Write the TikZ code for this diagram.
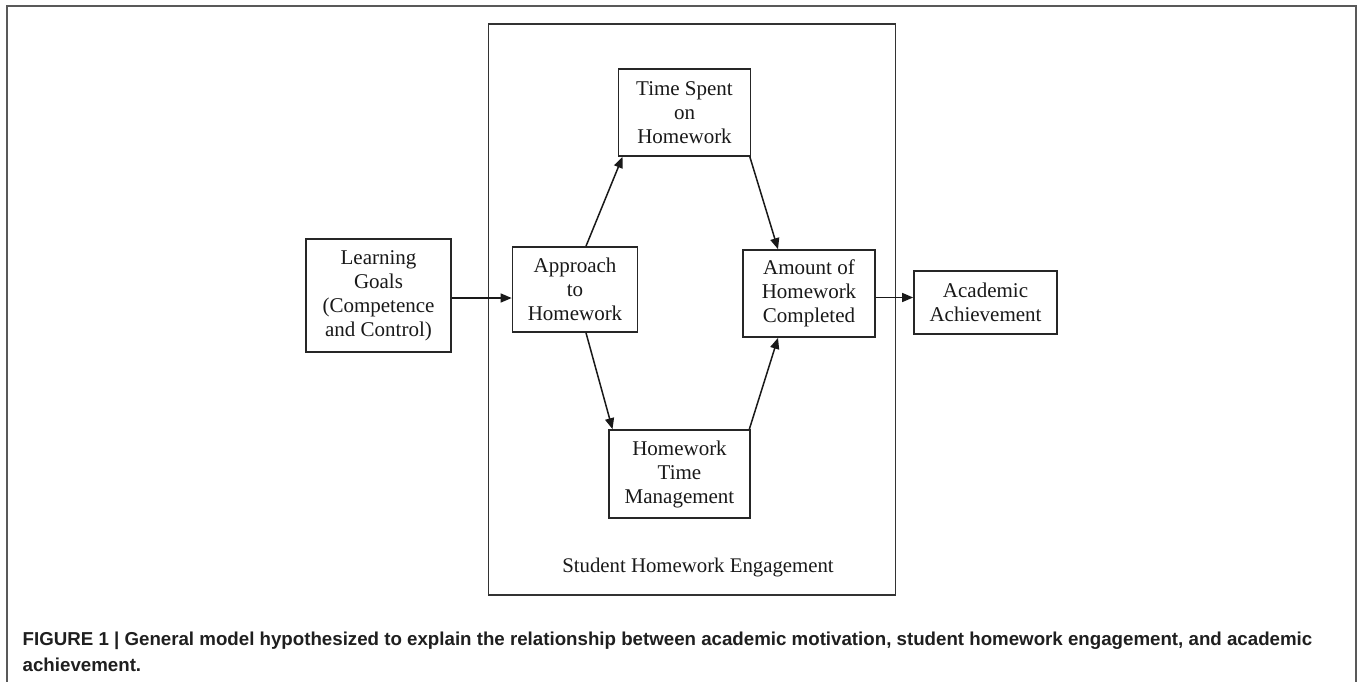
\documentclass[tikz,border=0pt]{standalone}
\usepackage{fontspec}
\setmainfont{Liberation Serif}
\newfontfamily\capfont{Liberation Sans}
\usetikzlibrary{arrows.meta}
\begin{document}
\begin{tikzpicture}[x=1pt,y=-1pt,
  box/.style={draw=black!85, line width=1.7pt, align=center, inner sep=0pt,
    font=\fontsize{21}{24}\selectfont, text=black!90},
  conn/.style={-{Triangle[length=11pt,width=9pt]}, line width=1.5pt, draw=black!90, fill=black!90},
  frame/.style={draw=black!65, line width=1.5pt}]
\useasboundingbox (0,0) rectangle (1358,681);
\fill[white] (0,0) rectangle (1358,681);
\draw[frame] (7,700) -- (7,6) -- (1356,6) -- (1356,700);
% engagement frame
\node[draw=black!80, line width=1.6pt, minimum width=407pt, minimum height=571pt, inner sep=0pt] (eng) at (692,309.5) {};
\node[anchor=base, font=\fontsize{20.8}{24}\selectfont, text=black!90] (lab) at (698,572) {Student Homework Engagement};
% boxes
\node[box, minimum width=145pt, minimum height=113pt] (lg) at (378.5,295.5) {Learning\\Goals\\(Competence\\and Control)};
\node[box, minimum width=125pt, minimum height=85pt] (ap) at (575,289.5) {Approach\\to\\Homework};
\node[box, minimum width=132pt, minimum height=87pt] (ts) at (684.5,112.5) {Time Spent\\on\\Homework};
\node[box, minimum width=132pt, minimum height=87pt] (am) at (809,293.5) {Amount of\\Homework\\Completed};
\node[box, minimum width=141pt, minimum height=88pt] (htm) at (679.5,474) {Homework\\Time\\Management};
\node[box, minimum width=143pt, minimum height=63pt] (ac) at (985.5,302.5) {Academic\\Achievement};
% connectors
\draw[conn] ([yshift=-2.5pt]lg.east) -- ([yshift=-2.5pt]lg.east -| ap.west);
\draw[conn] ([xshift=11pt]ap.north) -- ([xshift=-62pt]ts.south);
\draw[conn] ([xshift=-1.5pt]ts.south east) -- ([xshift=-31pt]am.north);
\draw[conn] ([xshift=11pt]ap.south) -- ([xshift=-67pt]htm.north);
\draw[conn] ([xshift=-1.5pt]htm.north east) -- ([xshift=-31pt]am.south);
\draw[conn] ([yshift=-4pt]am.east) -- ([yshift=-4pt]am.east -| ac.west);
% caption
\node[anchor=base west, align=left, inner sep=0pt, text=black!88,
  font=\capfont\bfseries\fontsize{18.7}{25.5}\selectfont] (cap) at (22.5,671)
  {FIGURE 1 | General model hypothesized to explain the relationship between academic motivation, student homework engagement, and academic\\achievement.};
\end{tikzpicture}
\end{document}
